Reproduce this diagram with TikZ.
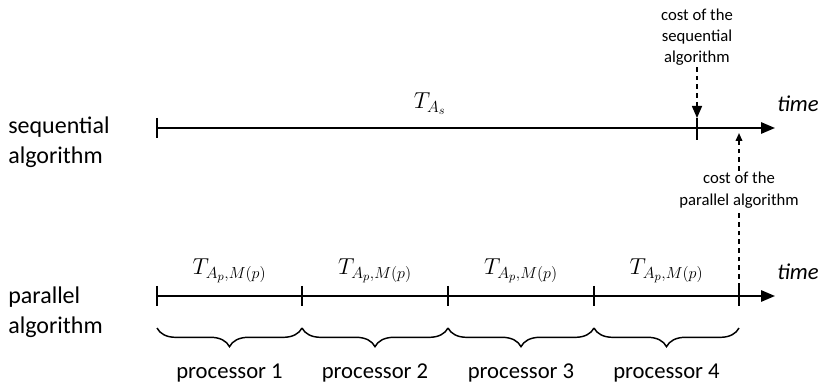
\documentclass[tikz,border=0pt]{standalone}
\usepackage{fontspec}
\setmainfont{Carlito}
\usepackage{tikz}
\usetikzlibrary{arrows.meta, positioning, calc, decorations.pathreplacing}
\tikzset{
  biglabel/.style={font=\fontsize{17}{22.5}\selectfont, inner sep=0pt},
  rowlabel/.style={font=\fontsize{18}{22.5}\selectfont, inner sep=0pt, anchor=west, align=left},
  mathlabel/.style={font=\fontsize{18}{22}\selectfont, inner sep=0pt},
  smalllabel/.style={font=\fontsize{12.5}{16}\selectfont, align=center, inner sep=1pt},
  timeaxis/.style={line width=1.4pt, -{Triangle[length=10.5pt, width=8.5pt]}},
  tickmark/.style={line width=1.2pt},
  costline/.style={line width=1.2pt, dash pattern=on 3.5pt off 3pt},
  procbrace/.style={line width=1.1pt, decorate,
    decoration={brace, mirror, amplitude=14pt}}
}
\begin{document}
\begin{tikzpicture}[x=0.75pt, y=-0.75pt]
  \useasboundingbox (0,0) rectangle (825,388);
  % time axes
  \coordinate (s0) at (157,128);
  \coordinate (send) at (775,128);
  \coordinate (sseq) at (697,128);
  \coordinate (p0) at (157,296);
  \coordinate (p1) at (302,296);
  \coordinate (p2) at (448,296);
  \coordinate (p3) at (594,296);
  \coordinate (p4) at (739,296);
  \coordinate (pend) at (775,296);
  \node[rowlabel] (seqlab) at (8,142) {sequential\\algorithm};
  \node[rowlabel] (parlab) at (8,312) {parallel\\algorithm};
  \draw[timeaxis] (s0) -- (send);
  \draw[timeaxis] (p0) -- (pend);
  \node[biglabel, font=\fontsize{17}{20}\itshape] (seqtime) at (798,104) {time};
  \node[biglabel, font=\fontsize{17}{20}\itshape] (partime) at (798,272) {time};
  \node[mathlabel] (tseq) at (430,104) {$T_{A_s}$};
  \draw[tickmark] ($(s0)+(0,-10)$) -- ($(s0)+(0,10)$);
  \draw[tickmark] ($(sseq)+(0,-10)$) -- ($(sseq)+(0,12)$);
  \foreach \p in {p0,p1,p2,p3,p4}
    \draw[tickmark] ($(\p)+(0,-10)$) -- ($(\p)+(0,10)$);
  % processors
  \foreach \i/\j [count=\k] in {p0/p1,p1/p2,p2/p3,p3/p4} {
    \node[mathlabel] (tpar\k) at ($(\i)!0.5!(\j)+(0,-25)$) {$T_{A_p,M(p)}$};
    \draw[procbrace] ($(\i)+(0,32)$) -- ($(\j)+(0,32)$);
    \node[biglabel] (proc\k) at ($(\i)!0.5!(\j)+(0,77)$) {processor \k};
  }
  % costs
  \node[smalllabel] (seqcost) at (697,37) {cost of the\\sequential\\algorithm};
  \coordinate (seqtip) at (697,118);
  \draw[costline, -{Triangle[length=9pt, width=7.5pt]}] (seqcost.south) -- (seqtip);
  \node[smalllabel] (parcost) at (739,190) {cost of the\\parallel algorithm};
  \coordinate (partip) at (739,133);
  \draw[costline] (p4) -- (parcost.south);
  \draw[costline, -{Triangle[length=6pt, width=5pt]}] (parcost.north) -- (partip);
\end{tikzpicture}
\end{document}
